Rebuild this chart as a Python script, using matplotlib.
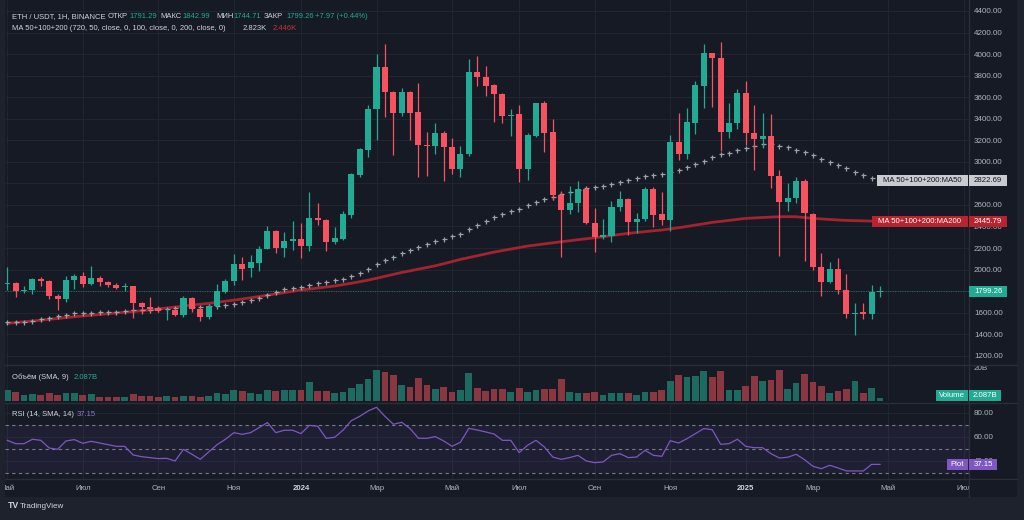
import numpy as np
import pandas as pd
import matplotlib
matplotlib.use('Agg')
import matplotlib.pyplot as plt
from matplotlib.patches import Rectangle
from matplotlib.lines import Line2D

plt.rcParams['font.family'] = ['Liberation Sans', 'DejaVu Sans']

# weekly ETH/USDT candles
start_date = '2023-05-01'

opens = [1865, 1875, 1803, 1806, 1908, 1893, 1754, 1723, 1902, 1936,
         1862, 1924, 1887, 1859, 1834, 1843, 1686, 1655, 1640, 1621,
         1624, 1577, 1735, 1633, 1556, 1661, 1794, 1893, 2048, 2010,
         2063, 2193, 2354, 2196, 2264, 2283, 2221, 2475, 2459, 2255,
         2286, 2506, 2880, 3112, 3487, 3883, 3651, 3456, 3651, 3459,
         3156, 3146, 3264, 3137, 2930, 3072, 3831, 3784, 3710, 3629,
         3422, 3441, 2933, 3243, 3543, 3273, 2692, 2552, 2614, 2747,
         2429, 2302, 2314, 2583, 2657, 2441, 2469, 2750, 2512, 2459,
         3187, 3072, 3360, 3707, 4007, 3961, 3280, 3357, 3639, 3270,
         3215, 3236, 2871, 2630, 2667, 2822, 2518, 2020, 1887, 2005,
         1810, 1590, 1602, 1590, 1791.29]
highs = [2020, 1887, 1847, 1918, 1927, 1899, 1769, 1939, 1958, 1977,
         2032, 1939, 1893, 1871, 1877, 1850, 1701, 1748, 1664, 1645,
         1639, 1754, 1748, 1655, 1676, 1865, 1915, 2141, 2119, 2134,
         2218, 2404, 2366, 2345, 2450, 2435, 2719, 2617, 2465, 2391,
         2540, 2893, 3131, 3527, 3998, 4094, 3660, 3682, 3660, 3734,
         3280, 3363, 3289, 3224, 3147, 3954, 3982, 3889, 3720, 3642,
         3487, 3527, 3270, 3549, 3564, 3397, 2729, 2778, 2822, 2769,
         2568, 2466, 2636, 2732, 2660, 2521, 2763, 2769, 2723, 3249,
         3450, 3496, 3750, 4091, 4010, 4109, 3549, 3673, 3750, 3527,
         3450, 3441, 2924, 2800, 2862, 2840, 2525, 2150, 2066, 2103,
         1955, 1686, 1692, 1856, 1842.99]
lows = [1810, 1741, 1779, 1769, 1847, 1723, 1627, 1701, 1822, 1834,
        1853, 1850, 1834, 1822, 1803, 1553, 1587, 1608, 1608, 1531,
        1568, 1562, 1608, 1525, 1543, 1649, 1785, 1853, 1902, 1933,
        1989, 2187, 2150, 2119, 2181, 2103, 2168, 2413, 2175, 2236,
        2274, 2475, 2862, 3041, 3202, 3413, 3060, 3425, 3202, 2856,
        2868, 3069, 2822, 2883, 2862, 3057, 3707, 3611, 3366, 3363,
        3243, 2815, 2831, 3233, 3094, 2645, 2113, 2515, 2537, 2422,
        2159, 2280, 2258, 2546, 2317, 2336, 2453, 2391, 2413, 2360,
        3017, 3026, 3258, 3502, 3512, 3100, 3224, 3304, 3156, 2924,
        3125, 2753, 2128, 2546, 2614, 2079, 1995, 1757, 1871, 1769,
        1547, 1392, 1540, 1540, 1744.71]
closes = [1877, 1803, 1809, 1908, 1893, 1754, 1723, 1902, 1936, 1862,
          1924, 1887, 1859, 1831, 1843, 1686, 1655, 1633, 1617, 1627,
          1577, 1735, 1633, 1556, 1664, 1797, 1893, 2048, 2008, 2066,
          2193, 2354, 2196, 2267, 2283, 2221, 2475, 2456, 2258, 2292,
          2512, 2883, 3119, 3490, 3883, 3645, 3456, 3651, 3456, 3156,
          3150, 3264, 3137, 2930, 3075, 3831, 3784, 3707, 3626, 3425,
          3437, 2933, 3249, 3543, 3270, 2688, 2552, 2614, 2747, 2429,
          2299, 2320, 2583, 2657, 2441, 2469, 2750, 2506, 2459, 3187,
          3072, 3366, 3713, 4007, 3961, 3280, 3357, 3639, 3267, 3215,
          3236, 2871, 2630, 2667, 2822, 2521, 2020, 1887, 2005, 1810,
          1584, 1599, 1590, 1794, 1799.26]

# volume in billions
volumes = [6.4, 5.6, 3.3, 4.1, 3.5, 5.0, 3.5, 4.8, 4.8, 3.3,
           3.9, 2.5, 2.3, 2.5, 2.1, 4.1, 2.9, 2.9, 2.3, 2.7,
           2.1, 2.7, 2.7, 2.5, 2.9, 4.7, 4.1, 6.6, 6.0, 5.0,
           4.3, 6.6, 5.8, 6.4, 6.4, 6.4, 11.4, 5.8, 5.9, 4.5,
           5.4, 8.0, 9.9, 13.2, 18.4, 17.3, 15.7, 9.7, 8.5, 13.8,
           9.5, 7.0, 8.3, 5.4, 6.4, 16.5, 8.0, 6.2, 7.0, 7.4,
           5.6, 7.6, 5.6, 6.6, 7.0, 7.4, 13.2, 5.4, 4.9, 5.0,
           5.2, 3.7, 4.7, 4.5, 4.7, 3.7, 5.2, 5.4, 6.6, 12.2,
           15.7, 14.4, 14.9, 17.7, 14.6, 18.2, 6.8, 6.8, 9.1, 15.1,
           11.8, 12.4, 18.6, 7.4, 10.5, 15.9, 11.6, 9.1, 4.7, 5.8,
           7.0, 11.8, 4.7, 7.8, 2.087]

ma50 = [1515, 1515, 1515, 1525, 1537, 1553, 1568, 1581, 1593, 1593,
        1599, 1605, 1605, 1608, 1614, 1621, 1621, 1624, 1630, 1636,
        1642, 1648, 1652, 1655, 1660, 1666, 1672, 1679, 1698, 1713,
        1738, 1762, 1790, 1815, 1831, 1840, 1856, 1871, 1887, 1902,
        1915, 1939, 1970, 2004, 2048, 2088, 2119, 2150, 2181, 2206,
        2233, 2261, 2286, 2311, 2333, 2373, 2416, 2450, 2484, 2515,
        2546, 2565, 2596, 2627, 2655, 2676, 2698, 2716, 2738, 2757,
        2769, 2778, 2797, 2812, 2831, 2849, 2868, 2877, 2890, 2910,
        2927, 2948, 2976, 3010, 3044, 3069, 3085, 3106, 3128, 3147,
        3162, 3168, 3150, 3134, 3113, 3091, 3063, 3029, 2998, 2973,
        2939, 2908, 2874, 2853, 2823]
ma200 = [1500, 1508, 1515, 1522, 1530, 1538, 1546, 1554, 1562, 1569,
         1576, 1583, 1590, 1597, 1604, 1611, 1618, 1626, 1634, 1643,
         1652, 1661, 1670, 1678, 1686, 1696, 1706, 1716, 1727, 1738,
         1750, 1762, 1774, 1786, 1798, 1810, 1819, 1828, 1838, 1847,
         1860, 1873, 1887, 1902, 1919, 1937, 1955, 1973, 1988, 2004,
         2019, 2035, 2054, 2074, 2094, 2111, 2128, 2145, 2162, 2176,
         2190, 2204, 2218, 2228, 2238, 2248, 2258, 2267, 2277, 2286,
         2295, 2305, 2315, 2326, 2336, 2344, 2352, 2360, 2367, 2378,
         2388, 2400, 2413, 2425, 2438, 2447, 2456, 2466, 2475, 2479,
         2483, 2487, 2490, 2491, 2490, 2483, 2475, 2470, 2465, 2460,
         2456, 2454, 2452, 2450, 2446]

rsi = [57.2, 54.4, 54.4, 58.1, 57.2, 50.8, 49.7, 56.7, 57.8, 54.7,
       56.4, 55.0, 53.6, 52.2, 52.2, 45.0, 43.6, 42.8, 42.0, 42.2,
       40.0, 49.7, 45.6, 41.4, 47.5, 53.6, 58.1, 63.6, 62.2, 63.6,
       67.8, 72.0, 63.6, 65.6, 65.6, 62.8, 69.7, 68.9, 58.9, 59.7,
       65.6, 73.6, 77.2, 81.7, 84.7, 77.2, 70.6, 72.2, 67.0, 58.9,
       58.9, 60.3, 56.7, 52.2, 55.6, 67.2, 65.8, 64.2, 62.5, 57.2,
       57.2, 47.0, 53.1, 57.2, 51.7, 43.3, 41.4, 42.8, 44.7, 40.0,
       38.6, 39.2, 44.7, 46.1, 42.8, 43.3, 48.9, 44.7, 43.9, 56.9,
       55.0, 58.6, 62.8, 67.0, 66.1, 53.9, 54.4, 58.1, 52.2, 51.1,
       51.1, 46.1, 42.5, 43.1, 45.6, 41.1, 35.6, 33.6, 36.4, 34.2,
       31.7, 31.7, 31.7, 37.2, 37.15]

price_ticks = list(range(1200, 4401, 200))
hidden_price_labels = [2800]  # covered by the MA50 tag in the reference
rsi_ticks = [40, 60, 80]
rsi_levels = [70, 50, 30]
month_names = {3: 'Мар', 5: 'Май', 7: 'Июл', 9: 'Сен', 11: 'Ноя'}

UP = '#22ab94'
DOWN = '#f7525f'
UP_VOL = '#1d6a61'
DOWN_VOL = '#8b3742'
BG = '#161a25'
FRAME = '#1e222d'
GRID = '#21252f'
SEP = '#2a2e39'
TXT = '#b2b5be'
LIGHT = '#d1d4dc'
MA200_C = '#a3232f'
RSI_C = '#7e57c2'

W, H = 1024, 520
fig = plt.figure(figsize=(W / 100, H / 100), dpi=100, facecolor=FRAME)


def fx(px):
    return px / W


def fy(py):
    return 1 - py / H


def area(x0, y0, x1, y1):
    # pixel box (top-left origin) -> axes rect
    return [fx(x0), fy(y1), (x1 - x0) / W, (y1 - y0) / H]


fig.add_artist(Rectangle((fx(5), fy(497)), (1012) / W, 497 / H,
                         transform=fig.transFigure, fc=BG, ec='none', zorder=-10))

o = np.array(opens)
c = np.array(closes)
x = np.arange(len(c))
up = c >= o
colors = np.where(up, UP, DOWN)

# tick positions: first bar of every second month
dates = pd.date_range(start_date, periods=116, freq='W-MON')
ticks, tick_labels = [], []
for i, d in enumerate(dates):
    first = i == 0 or d.month != dates[i - 1].month
    if first and d.month % 2 == 1:
        ticks.append(i)
        tick_labels.append(str(d.year) if d.month == 1 else month_names[d.month])

xlim = (-0.27, 114.6)

ax = fig.add_axes(area(5, 0, 969, 365))
axv = fig.add_axes(area(5, 365, 969, 401))
axr = fig.add_axes(area(5, 403, 969, 479))

for a in (ax, axv, axr):
    a.set_facecolor(BG)
    a.set_xlim(*xlim)
    for s in a.spines.values():
        s.set_visible(False)
    a.set_xticks(ticks)
    a.yaxis.tick_right()
    a.tick_params(axis='both', length=0, labelsize=5.8, labelcolor=TXT, pad=3.6)
    a.tick_params(axis='x', labelbottom=False)
    a.grid(color=GRID, lw=0.8)
    a.set_axisbelow(True)

# --- price pane ---
ax.set_ylim(1114, 4502)
ax.set_yticks(price_ticks)
ax.set_yticklabels(['' if v in hidden_price_labels else f'{v:.2f}' for v in price_ticks])
ax.axhline(closes[-1], color=UP, lw=0.7, ls=(0, (1, 1.5)), alpha=0.6, zorder=1)
ax.plot(x, ma200, color=MA200_C, lw=2.0, zorder=2, solid_capstyle='round')
ax.plot(x, ma50, ls='none', marker='+', ms=3.6, mew=0.9, color='#9ea1aa', zorder=2)
ax.vlines(x, lows, highs, colors=colors, lw=0.9, zorder=3)
body = np.maximum(np.abs(c - o), 8)
ax.bar(x, body, bottom=np.minimum(o, c), width=0.72, color=colors, lw=0, zorder=4)

# --- volume pane ---
axv.set_ylim(0, 21.5)
axv.set_yticks([20])
axv.set_yticklabels(['20B'])
axv.grid(axis='y', visible=False)
axv.bar(x, volumes, width=0.8, color=np.where(up, UP_VOL, DOWN_VOL), lw=0)

# --- RSI pane ---
axr.set_ylim(25, 88.3)
axr.set_yticks(rsi_ticks)
axr.set_yticklabels([f'{v:.2f}' for v in rsi_ticks])
axr.axhspan(30, 70, color=RSI_C, alpha=0.09, lw=0)
for lv in rsi_levels:
    axr.axhline(lv, color='#787b86', lw=0.8, ls=(0, (3, 3)))
axr.plot(x, rsi, color=RSI_C, lw=0.9)
axr.tick_params(axis='x', labelbottom=True, pad=4.2, labelsize=5.6)
labs = axr.set_xticklabels(tick_labels)
for t in labs:
    if t.get_text().isdigit():
        t.set_fontweight('bold')
        t.set_color(LIGHT)

# separators
for py in (365, 403, 479):
    fig.add_artist(Line2D([fx(5), fx(1017)], [fy(py), fy(py)], color=SEP, lw=1, zorder=3))
fig.add_artist(Line2D([fx(969), fx(969)], [fy(0), fy(497)], color=SEP, lw=1, zorder=3))
# trim time-axis labels at the pane edges
fig.add_artist(Rectangle((fx(969.5), fy(496)), 47 / W, 16 / H,
                         transform=fig.transFigure, fc=BG, ec='none', zorder=4))
fig.add_artist(Rectangle((0, fy(497)), fx(5), 18 / H,
                         transform=fig.transFigure, fc=FRAME, ec='none', zorder=4))


def tag(axis, val, x0, x1, text, fc, tc):
    yc = axis.transData.transform((0, val))[1] / H
    fig.add_artist(Rectangle((fx(x0), yc - 5.5 / H), (x1 - x0) / W, 11 / H,
                             transform=fig.transFigure, fc=fc, ec='none', zorder=5))
    fig.text(fx((x0 + x1) / 2), yc, text, ha='center', va='center',
             color=tc, fontsize=5.6, zorder=6)


tag(ax, ma50[-1] - 0.31, 877, 968, 'MA 50+100+200:MA50', '#c9cbd1', '#131722')
tag(ax, ma50[-1] - 0.31, 969, 1007, '2822.69', '#c9cbd1', '#131722')
tag(ax, 2445.79, 872, 968, 'MA 50+100+200:MA200', '#b8232f', 'white')
tag(ax, 2445.79, 969, 1007, '2445.79', '#b8232f', 'white')
tag(ax, closes[-1], 969, 1007, f'{closes[-1]:.2f}', UP, 'white')
tag(axv, volumes[-1] + 0.9, 936, 968, 'Volume', UP, 'white')
tag(axv, volumes[-1] + 0.9, 969, 1001, '2.087B', UP, 'white')
tag(axr, rsi[-1], 947, 968, 'Plot', RSI_C, 'white')
tag(axr, rsi[-1], 969, 997, f'{rsi[-1]:.2f}', RSI_C, 'white')

# --- legends / header ---
hs = 5.5
header = [(11.7, 'ETH / USDT, 1H, BINANCE', LIGHT), (108, 'ОТКР', LIGHT),
          (129, f'{opens[-1]:.2f}', UP), (160, 'МАКС', LIGHT),
          (182, f'{highs[-1]:.2f}', UP), (216, 'МИН', LIGHT),
          (233, f'{lows[-1]:.2f}', UP), (264, 'ЗАКР', LIGHT),
          (286, f'{closes[-1]:.2f}', UP), (315, '+7.97 (+0.44%)', UP)]
for px, s, col in header:
    fig.text(fx(px), fy(16.5), s, color=col, fontsize=hs, va='center')
fig.text(fx(11.7), fy(28), 'MA 50+100+200 (720, 50, close, 0, 100, close, 0, 200, close, 0)',
         color=LIGHT, fontsize=hs, va='center')
fig.text(fx(243), fy(28), '2.823K', color=LIGHT, fontsize=hs, va='center')
fig.text(fx(273), fy(28), '2.446K', color='#c8313d', fontsize=hs, va='center')

fig.text(fx(11.7), fy(377.5), 'Объём (SMA, 9)', color=LIGHT, fontsize=hs, va='center')
fig.text(fx(74), fy(377.5), '2.087B', color=UP, fontsize=hs, va='center')
fig.text(fx(11.7), fy(414), 'RSI (14, SMA, 14)', color=LIGHT, fontsize=hs, va='center')
fig.text(fx(77), fy(414), f'{rsi[-1]:.2f}', color='#9575cd', fontsize=hs, va='center')

fig.text(fx(8), fy(506), 'TV', color=LIGHT, fontsize=6.3, fontweight='heavy', va='center')
fig.text(fx(19.5), fy(506), 'TradingView', color=LIGHT, fontsize=5.8, va='center')

fig.savefig('out.png', dpi=100, facecolor=FRAME)
